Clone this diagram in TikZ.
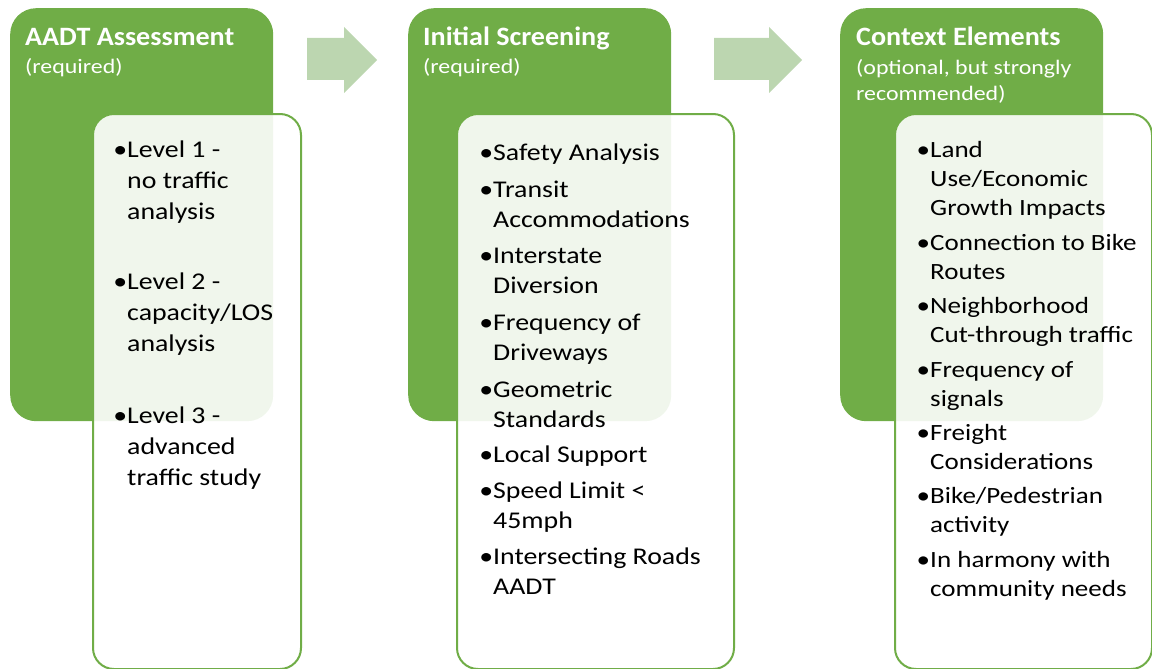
\documentclass[tikz,border=0pt]{standalone}
\usepackage{fontspec}
\setmainfont{Carlito}[FakeStretch=1.16]
\newfontfamily\titlefont{Carlito}[FakeStretch=1.06]
\usetikzlibrary{positioning}

\definecolor{leafgreen}{RGB}{112,173,71}
\definecolor{palegreen}{RGB}{188,214,176}

\tikzset{
  stage/.style={rectangle, rounded corners=26pt, fill=leafgreen, anchor=north west, inner sep=0pt},
  listbox/.style={rectangle, rounded corners=21pt, draw=leafgreen, line width=2pt, fill=white, fill opacity=0.9, anchor=north west, inner sep=0pt},
  head/.style={anchor=base west, inner sep=0pt, text=white, font=\titlefont\fontsize{26.5}{31}\selectfont\bfseries},
  sub/.style={anchor=north west, inner sep=0pt, align=left, text=white, font=\fontsize{20.6}{26}\selectfont},
  item/.style={anchor=north west, inner sep=0pt, align=left, font=\fontsize{24}{#1}\selectfont},
  item/.default=30,
  smallitem/.style={anchor=north west, inner sep=0pt, align=left, font=\fontsize{23.3}{29}\selectfont},
  flowarrow/.style={fill=palegreen}
}
\newcommand{\bul}{\llap{\textbullet}\strut}

\begin{document}
\begin{tikzpicture}[x=1pt, y=-1pt]
    \useasboundingbox (0,0) rectangle (1152,669);

    % green stage blocks
    \node[stage, minimum width=263, minimum height=413] (aadt) at (10,8) {};
    \node[stage, minimum width=263, minimum height=413] (screen) at (408,8) {};
    \node[stage, minimum width=263, minimum height=413] (context) at (840,8) {};

    % block arrows between the stages
    \fill[flowarrow] (307,38) -- (344,38) -- (344,27) -- (377,60) -- (344,93) -- (344,80) -- (307,80) -- cycle;
    \fill[flowarrow] (714,38) -- (769,38) -- (769,27) -- (802,60) -- (769,93) -- (769,80) -- (714,80) -- cycle;

    % white list panels laid over the blocks
    \node[listbox, minimum width=208, minimum height=555] (aadtlist) at (92,113) {};
    \node[listbox, minimum width=277, minimum height=555] (screenlist) at (456,113) {};
    \node[listbox, minimum width=257, minimum height=555] (contextlist) at (894,113) {};

    % stage titles
    \node[head] (aadthead) at (25,46) {AADT Assessment};
    \node[sub] (aadtsub) at (25,55) {\strut(required)};
    \node[head] (screenhead) at (423,46) {Initial Screening};
    \node[sub] (screensub) at (423,55) {\strut(required)};
    \node[head] (contexthead) at (856,46) {Context Elements};
    \node[sub] (contextsub) at (856,56) {\strut(optional, but strongly\\recommended)};

    % AADT levels
    \node[item=31] (lvla) at (127,135.3) {\bul Level 1 -\\no traffic\\analysis};
    \node[item=31] (lvlb) at (127,267.3) {\bul Level 2 -\\capacity/LOS\\analysis};
    \node[item=31] (lvlc) at (127,401.3) {\bul Level 3 -\\advanced\\traffic study};

    % screening criteria
    \node[item] (safety) at (493,139) {\bul Safety Analysis};
    \node[item] (transit) at (493,176) {\bul Transit\\Accommodations};
    \node[item] (interstate) at (493,242) {\bul Interstate\\Diversion};
    \node[item] (driveways) at (493,309) {\bul Frequency of\\Driveways};
    \node[item] (geometric) at (493,376) {\bul Geometric\\Standards};
    \node[item] (support) at (493,441) {\bul Local Support};
    \node[item] (speed) at (493,477) {\bul Speed Limit <\\45mph};
    \node[item] (crossing) at (493,543) {\bul Intersecting Roads\\AADT};

    % context elements
    \node[smallitem] (landuse) at (930,136.7) {\bul Land\\Use/Economic\\Growth Impacts};
    \node[smallitem] (bikeroute) at (930,229.7) {\bul Connection to Bike\\Routes};
    \node[smallitem] (cutthrough) at (930,292.7) {\bul Neighborhood\\Cut-through traffic};
    \node[smallitem] (signals) at (930,356.7) {\bul Frequency of\\signals};
    \node[smallitem] (freight) at (930,419.7) {\bul Freight\\Considerations};
    \node[smallitem] (pedestrian) at (930,482.7) {\bul Bike/Pedestrian\\activity};
    \node[smallitem] (harmony) at (930,546.7) {\bul In harmony with\\community needs};
\end{tikzpicture}
\end{document}
